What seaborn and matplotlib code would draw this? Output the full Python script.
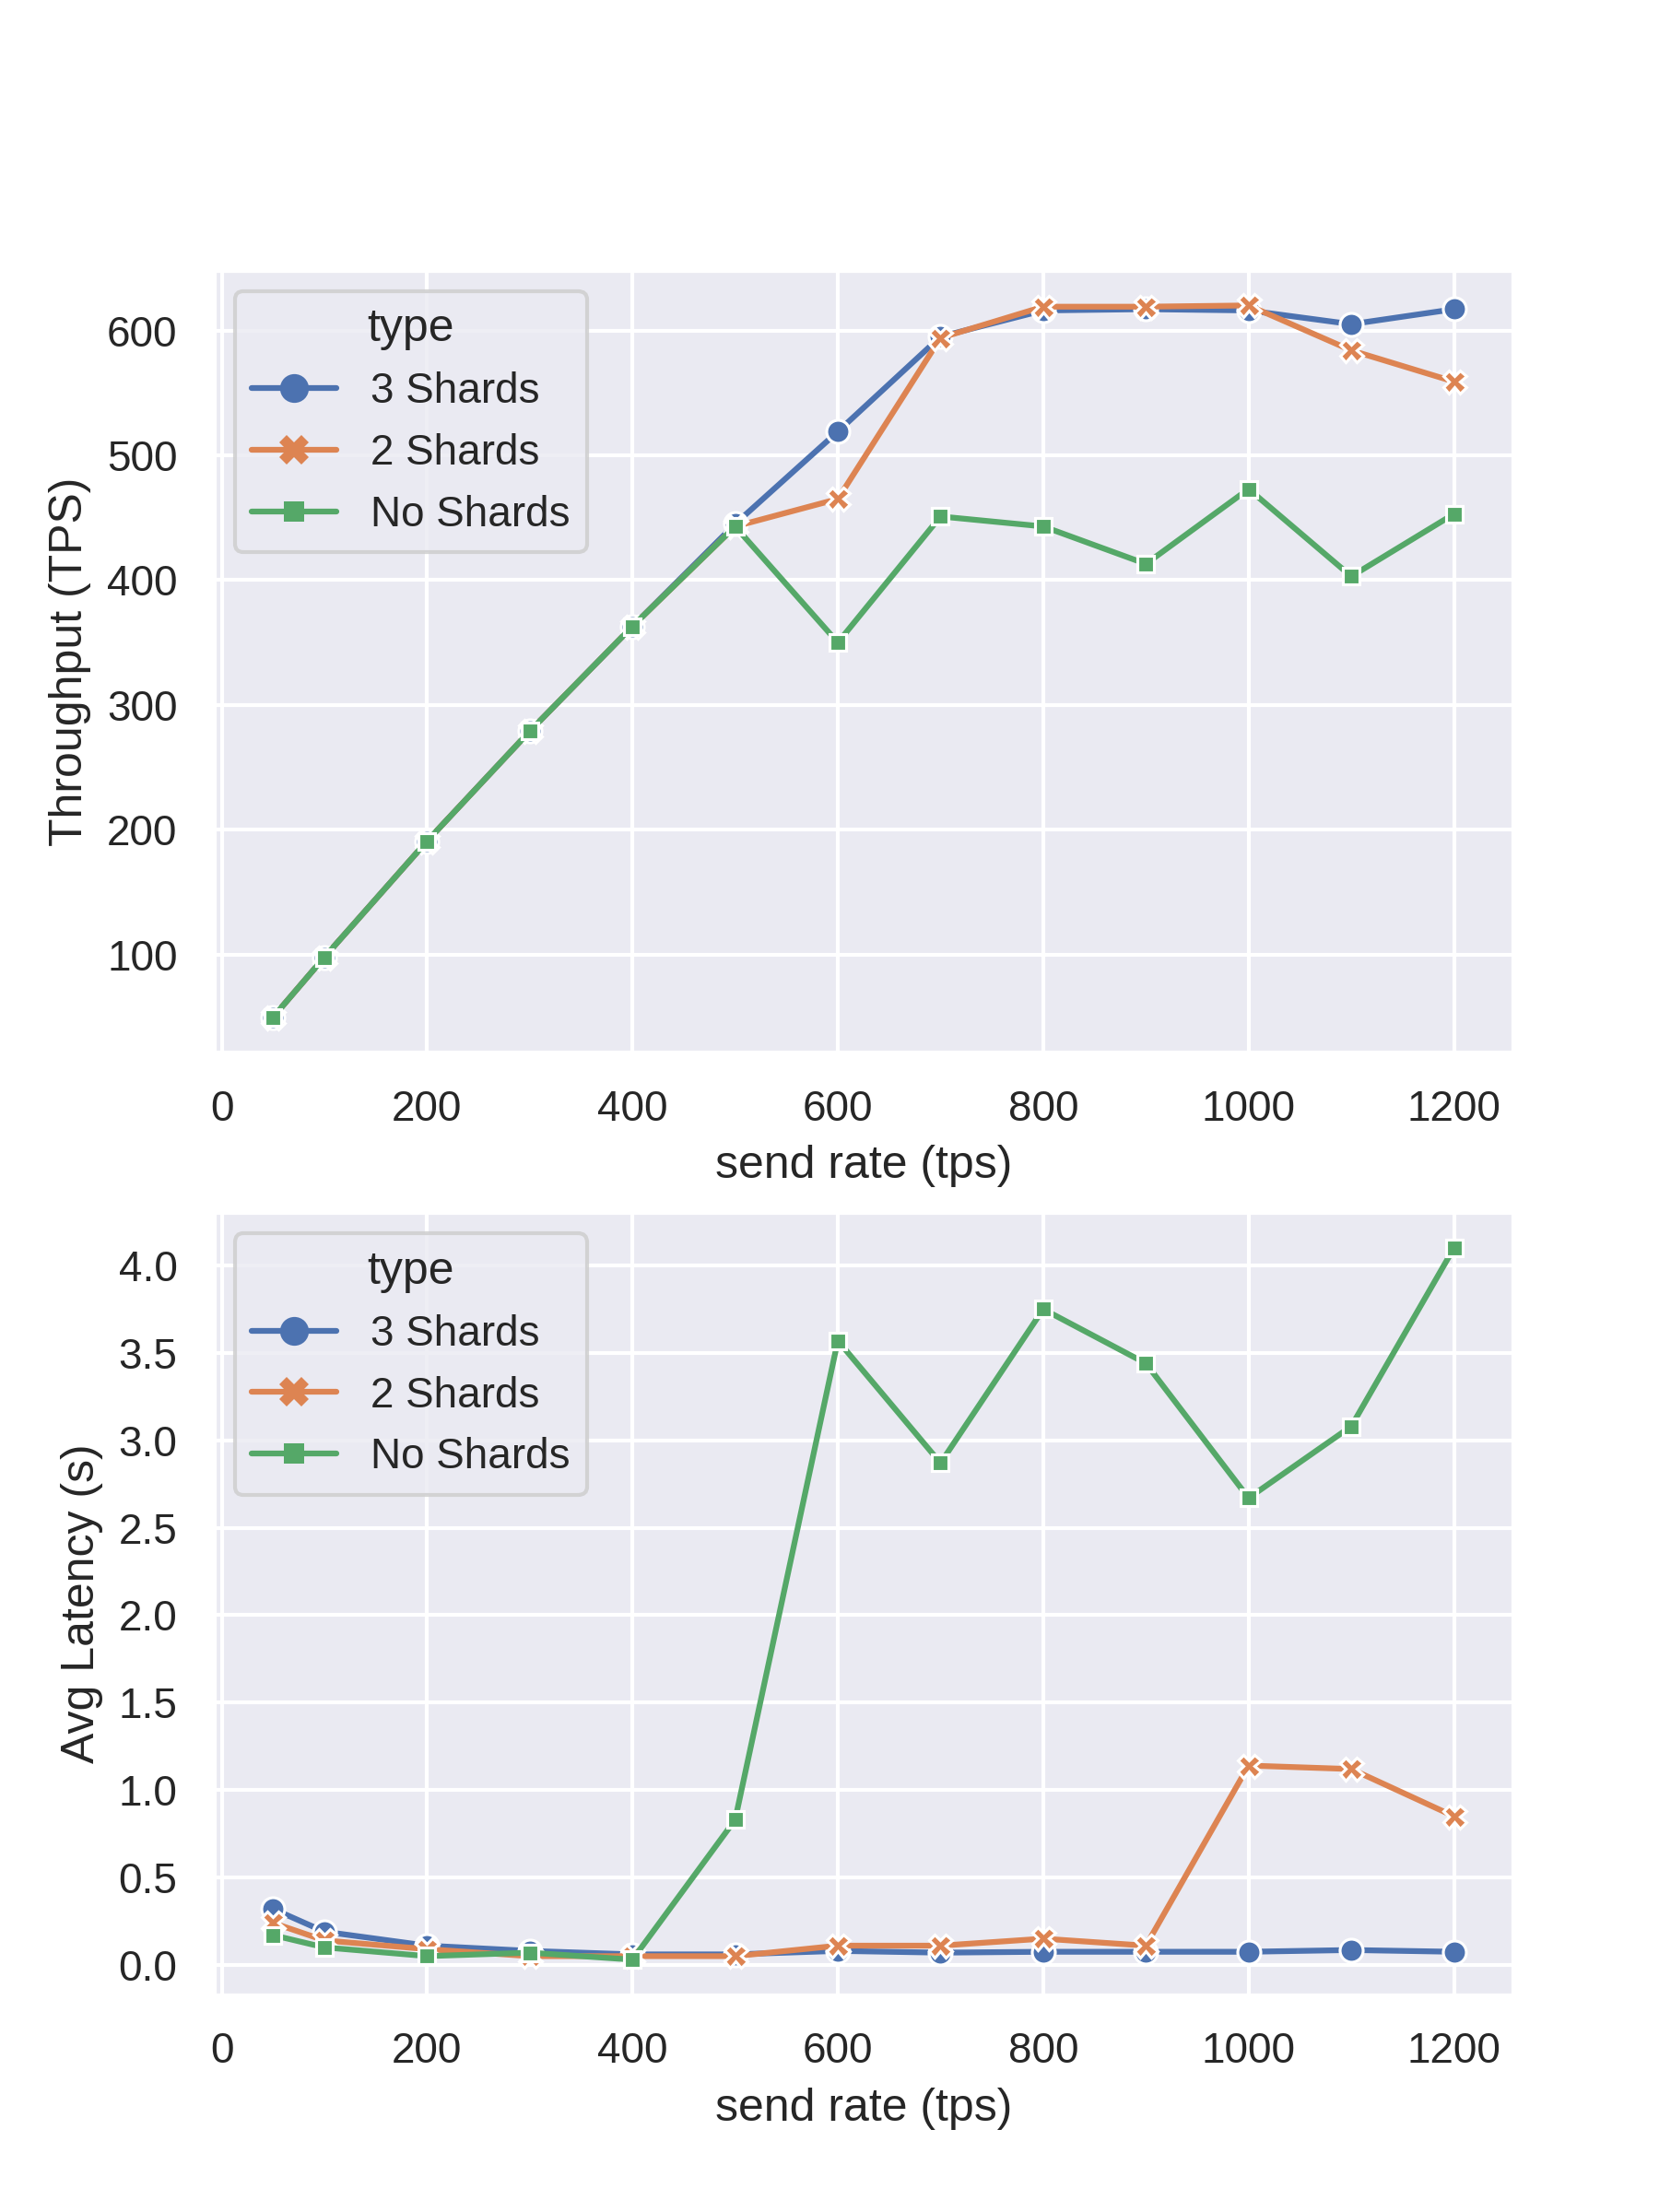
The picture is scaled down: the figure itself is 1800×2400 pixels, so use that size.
import pandas as pd
import matplotlib.pyplot as plt
import seaborn as sns

send_rate = [50, 100, 200, 300, 400, 500, 600, 700, 800, 900, 1000, 1100, 1200]
types = ['3 Shards', '2 Shards', 'No Shards']

# throughput per type
tps_3 = [50, 98, 191, 279, 363, 445, 519, 595, 616, 617, 616, 605, 617]
tps_2 = [50, 98, 191, 279, 363, 443, 465, 594, 619, 619, 620, 584, 559]
tps_0 = [50, 98, 191, 279, 363, 443, 350, 451, 443, 413, 473, 403, 453]

# average latency per type
lat_3 = [0.32, 0.19, 0.11, 0.08, 0.06, 0.06, 0.08, 0.07, 0.075, 0.075, 0.075, 0.085, 0.075]
lat_2 = [0.24, 0.14, 0.09, 0.05, 0.05, 0.05, 0.11, 0.11, 0.15, 0.11, 1.14, 1.12, 0.85]
lat_0 = [0.17, 0.10, 0.05, 0.07, 0.03, 0.83, 3.57, 2.87, 3.75, 3.44, 2.67, 3.08, 4.10]


def build_df():
    rows = []
    for t, tps, lat in zip(types, [tps_3, tps_2, tps_0], [lat_3, lat_2, lat_0]):
        for x, y1, y2 in zip(send_rate, tps, lat):
            rows.append({'send rate (tps)': x, 'type': t,
                         'Throughput (TPS)': y1, 'Avg Latency (s)': y2})
    return pd.DataFrame(rows)


def main():
    sns.set_theme()
    plt.rcParams['font.family'] = ['Liberation Sans', 'DejaVu Sans']
    df = build_df()
    fig, axes = plt.subplots(2, 1, figsize=(6, 8), dpi=300)
    for ax, col in zip(axes, ['Throughput (TPS)', 'Avg Latency (s)']):
        sns.lineplot(data=df, x='send rate (tps)', y=col, hue='type',
                     style='type', markers=True, dashes=False, ax=ax)
        # bigger legend markers, no white edge
        for h in ax.get_legend().legend_handles:
            h.set_markersize(7.5)
            h.set_markeredgewidth(0)
    plt.subplots_adjust(left=0.129, right=0.912, top=0.878, bottom=0.098, hspace=0.204)
    plt.savefig('out.png')


if __name__ == '__main__':
    main()
